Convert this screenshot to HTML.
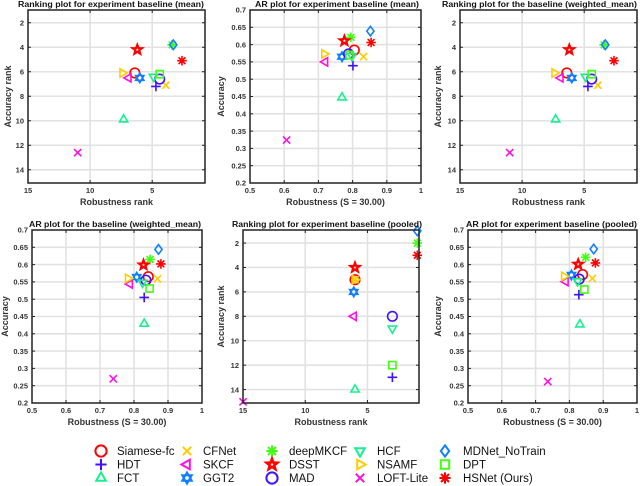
<!DOCTYPE html>
<html><head><meta charset="utf-8">
<style>
html,body{margin:0;padding:0;background:#fff;}
svg{display:block;font-family:"Liberation Sans",sans-serif;}
.tt{font-size:8.6px;font-weight:bold;fill:#111;}
.tk{font-size:7.5px;font-weight:bold;fill:#333;}
.al{font-size:9px;font-weight:bold;fill:#333;}
.lg{font-size:11.5px;fill:#111;}
</style></head>
<body>
<svg id="fig" width="640" height="486" viewBox="0 0 640 486"></svg>
<script>
const trackers = ["Siamese-fc","HDT","FCT","CFNet","SKCF","GGT2","deepMKCF","DSST","MAD","HCF","NSAMF","LOFT-Lite","MDNet_NoTrain","DPT","HSNet (Ours)"];
const shapes = ["circle","plus","triUp","x","triLeft","hexagram","asterisk","pentagram","circle","triDown","triRight","x","diamond","square","asterisk"];
const colors = ["#ff0000","#4010ff","#18f090","#ffcc00","#ff10e0","#1080ff","#40ff10","#ff0000","#4010ff","#18f090","#ffcc00","#ff10e0","#1080ff","#40ff10","#ff0000"];

// Panel 1: ranking, baseline (mean)
const p1Rob = [6.4,4.7,7.3,3.9,6.9,6.0,3.4,6.2,4.4,4.9,7.4,11.0,3.3,4.4,2.6];
const p1Acc = [6.1,7.2,9.9,7.1,6.5,6.5,3.8,4.2,6.6,6.4,6.1,12.6,3.8,6.2,5.1];
// Panel 2: AR, baseline (mean)
const p2Rob = [0.805,0.801,0.769,0.832,0.720,0.769,0.795,0.776,0.788,0.798,0.717,0.607,0.852,0.791,0.854];
const p2Acc = [0.584,0.539,0.447,0.565,0.550,0.565,0.621,0.611,0.573,0.567,0.573,0.324,0.639,0.570,0.606];
// Panel 3: ranking, weighted_mean
const p3Rob = [6.4,4.7,7.3,3.9,6.9,6.0,3.4,6.2,4.4,4.9,7.4,11.0,3.3,4.4,2.6];
const p3Acc = [6.1,7.2,9.9,7.1,6.5,6.5,3.8,4.2,6.6,6.4,6.1,12.6,3.8,6.2,5.1];
// Panel 4: AR, weighted_mean
const p4Rob = [0.842,0.830,0.830,0.869,0.788,0.808,0.847,0.828,0.835,0.825,0.782,0.739,0.872,0.846,0.879];
const p4Acc = [0.565,0.505,0.429,0.559,0.544,0.564,0.615,0.599,0.555,0.548,0.560,0.270,0.644,0.531,0.602];
// Panel 5: ranking, pooled
const p5Rob = [6.0,3.0,6.0,6.0,6.1,6.1,1.0,6.0,3.0,3.0,6.0,15.0,1.0,3.0,1.0];
const p5Acc = [5,13,14,5,8,6,2,4,8,9,5,15,1,12,3];
// Panel 6: AR, pooled
const p6Rob = [0.839,0.828,0.831,0.868,0.789,0.806,0.848,0.826,0.829,0.824,0.784,0.736,0.872,0.844,0.877];
const p6Acc = [0.571,0.513,0.427,0.560,0.551,0.570,0.621,0.601,0.558,0.552,0.566,0.262,0.645,0.528,0.605];

const rankXTicks = [15,10,5];
const rankYTicks = [2,4,6,8,10,12,14];
const arXTicks = [0.5,0.6,0.7,0.8,0.9,1];
const arXLabels = ["0.5","0.6","0.7","0.8","0.9","1"];
const arYTicks = [0.2,0.25,0.3,0.35,0.4,0.45,0.5,0.55,0.6,0.65,0.7];
const arYLabels = ["0.2","0.25","0.3","0.35","0.4","0.45","0.5","0.55","0.6","0.65","0.7"];

const NS="http://www.w3.org/2000/svg";
const fig=document.getElementById('fig');
function mk(tag,attrs,parent){const e=document.createElementNS(NS,tag);for(const k in attrs)e.setAttribute(k,attrs[k]);(parent||fig).appendChild(e);return e;}

function markerPath(s,cx,cy,r){
  const p=(pts)=>'M'+pts.map(q=>q[0].toFixed(1)+','+q[1].toFixed(1)).join('L')+'Z';
  const poly=(n,rot,rad)=>{const a=[];for(let i=0;i<n;i++){const t=rot+i*2*Math.PI/n;a.push([cx+rad*Math.cos(t),cy+rad*Math.sin(t)]);}return a;};
  switch(s){
    case "circle": return `M${cx-r},${cy}a${r},${r} 0 1,0 ${2*r},0a${r},${r} 0 1,0 ${-2*r},0Z`;
    case "plus": return `M${cx-r},${cy}H${cx+r}M${cx},${cy-r}V${cy+r}`;
    case "x": {const d=r*0.75;return `M${cx-d},${cy-d}L${cx+d},${cy+d}M${cx-d},${cy+d}L${cx+d},${cy-d}`;}
    case "triUp": return p(poly(3,-Math.PI/2,r));
    case "triDown": return p(poly(3,Math.PI/2,r));
    case "triLeft": return p(poly(3,Math.PI,r));
    case "triRight": return p(poly(3,0,r));
    case "diamond": return p([[cx,cy-r],[cx+r*0.75,cy],[cx,cy+r],[cx-r*0.75,cy]]);
    case "square": {const d=r*0.75;return p([[cx-d,cy-d],[cx+d,cy-d],[cx+d,cy+d],[cx-d,cy+d]]);}
    case "hexagram": return p(poly(3,-Math.PI/2,r))+p(poly(3,Math.PI/2,r));
    case "pentagram": {const a=[];for(let i=0;i<10;i++){const t=-Math.PI/2+i*Math.PI/5;const rr=i%2?r*0.42:r;a.push([cx+rr*Math.cos(t),cy+rr*Math.sin(t)]);}return p(a);}
    case "asterisk": {let d='';for(let i=0;i<4;i++){const t=i*Math.PI/4;d+=`M${(cx-r*Math.cos(t)).toFixed(1)},${(cy-r*Math.sin(t)).toFixed(1)}L${(cx+r*Math.cos(t)).toFixed(1)},${(cy+r*Math.sin(t)).toFixed(1)}`;}return d;}
  }
}

function panel(cfg,xs,ys,xt,xl,yt,yl){
  const g=mk('g',{});
  
  
  const X=v=>cfg.x0+(v-cfg.xd[0])/(cfg.xd[1]-cfg.xd[0])*(cfg.x1-cfg.x0);
  const Y=v=>cfg.y0+(v-cfg.yd[0])/(cfg.yd[1]-cfg.yd[0])*(cfg.y1-cfg.y0);
  xt.forEach(v=>{const x=X(v);if(x>cfg.x0+1&&x<cfg.x1-1)mk('line',{x1:x,x2:x,y1:cfg.y0,y2:cfg.y1,stroke:'#e2e2e2','stroke-width':1.6},g);});
  yt.forEach(v=>{const y=Y(v);if(y>cfg.y0+1&&y<cfg.y1-1)mk('line',{x1:cfg.x0,x2:cfg.x1,y1:y,y2:y,stroke:'#e2e2e2','stroke-width':1.6},g);});
  xt.forEach((v,i)=>{const x=X(v);
    mk('line',{x1:x,x2:x,y1:cfg.y1,y2:cfg.y1-3,stroke:'#222','stroke-width':1},g);
    mk('line',{x1:x,x2:x,y1:cfg.y0,y2:cfg.y0+3,stroke:'#222','stroke-width':1},g);
    const t=mk('text',{x:x,y:cfg.y1+10,'text-anchor':'middle',class:'tk'},g);t.textContent=xl[i];
    
    });
  yt.forEach((v,i)=>{const y=Y(v);
    mk('line',{x1:cfg.x0,x2:cfg.x0+3,y1:y,y2:y,stroke:'#222','stroke-width':1},g);
    mk('line',{x1:cfg.x1,x2:cfg.x1-3,y1:y,y2:y,stroke:'#222','stroke-width':1},g);
    const t=mk('text',{x:cfg.x0-4,y:y+2.7,'text-anchor':'end',class:'tk'},g);t.textContent=yl[i];
    
    });
  const cg=mk('g',{},g);
  xs.forEach((v,i)=>{
    const m=mk('path',{d:markerPath(shapes[i],X(v),Y(ys[i]),4.8),fill:'none',stroke:colors[i],'stroke-width':shapes[i]==='pentagram'?2.2:1.6,'stroke-linejoin':'miter'},cg);
    
    
  });
  const b=mk('rect',{x:cfg.x0,y:cfg.y0,width:cfg.x1-cfg.x0,height:cfg.y1-cfg.y0,fill:'none',stroke:'#222','stroke-width':1.5},g);
  
  
  const tt=mk('text',{x:cfg.tx0+cfg.tw/2,y:cfg.y0-3,'text-anchor':'middle',class:'tt',textLength:cfg.tw,lengthAdjust:'spacingAndGlyphs'},g);tt.textContent=cfg.title;
  
  
  const xa=mk('text',{x:(cfg.x0+cfg.x1)/2,y:cfg.y1+22,'text-anchor':'middle',class:'al'},g);xa.textContent=cfg.xlab;
  
  
  const cy=(cfg.y0+cfg.y1)/2;
  const ya=mk('text',{x:cfg.ylx,y:cy,'text-anchor':'middle',class:'al',transform:`rotate(-90 ${cfg.ylx} ${cy})`},g);ya.textContent=cfg.ylab;
  
  
}
const rl=rankXTicks.map(String), ryl=rankYTicks.map(String);
panel({name:'ranking-plot-mean',x0:28,x1:205,y0:10,y1:183,xd:[15,0.75],yd:[0.96,15.08],tx0:18,tw:186,title:'Ranking plot for experiment baseline (mean)',xlab:'Robustness rank',ylab:'Accuracy rank',ylx:11},p1Rob,p1Acc,rankXTicks,rl,rankYTicks,ryl);
panel({name:'ar-plot-mean',x0:250,x1:421,y0:10,y1:183,xd:[0.5,1],yd:[0.7,0.2],tx0:255,tw:164,title:'AR plot for experiment baseline (mean)',xlab:'Robustness (S = 30.00)',ylab:'Accuracy',ylx:224},p2Rob,p2Acc,arXTicks,arXLabels,arYTicks,arYLabels);
panel({name:'ranking-plot-weighted-mean',x0:460,x1:637,y0:10,y1:183,xd:[15,0.75],yd:[0.96,15.08],tx0:442,tw:195,title:'Ranking plot for the baseline (weighted_mean)',xlab:'Robustness rank',ylab:'Accuracy rank',ylx:441},p3Rob,p3Acc,rankXTicks,rl,rankYTicks,ryl);
panel({name:'ar-plot-weighted-mean',x0:32,x1:202,y0:230,y1:403,xd:[0.5,1],yd:[0.7,0.2],tx0:29,tw:172,title:'AR plot for the baseline (weighted_mean)',xlab:'Robustness (S = 30.00)',ylab:'Accuracy',ylx:8},p4Rob,p4Acc,arXTicks,arXLabels,arYTicks,arYLabels);
panel({name:'ranking-plot-pooled',x0:243,x1:419,y0:230,y1:403,xd:[15,0.86],yd:[0.93,15.1],tx0:232,tw:190,title:'Ranking plot for experiment baseline (pooled)',xlab:'Robustness rank',ylab:'Accuracy rank',ylx:224},p5Rob,p5Acc,rankXTicks,rl,rankYTicks,ryl);
panel({name:'ar-plot-pooled',x0:468,x1:637,y0:230,y1:403,xd:[0.5,1],yd:[0.7,0.2],tx0:466,tw:171,title:'AR plot for experiment baseline (pooled)',xlab:'Robustness (S = 30.00)',ylab:'Accuracy',ylx:441},p6Rob,p6Acc,arXTicks,arXLabels,arYTicks,arYLabels);

// legend
const lgX=[101,187,272,360,445], lgT=[117,203,289,377,463], lgY=[451,464.5,478];
const lg=mk('g',{});


trackers.forEach((n,i)=>{
  const c=Math.floor(i/3), r=i%3;
  const m=mk('path',{d:markerPath(shapes[i],lgX[c],lgY[r],5.6),fill:'none',stroke:colors[i],'stroke-width':shapes[i]==='pentagram'?2.6:2},lg);
  
  
  const t=mk('text',{x:lgT[c],y:lgY[r]+4.2,class:'lg'},lg);t.textContent=n;
  
  
});
</script>
</body></html>
